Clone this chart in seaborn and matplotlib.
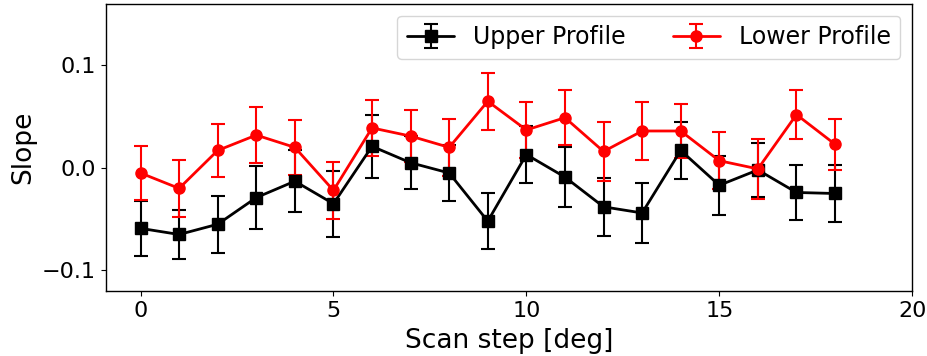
import numpy as np
import matplotlib
matplotlib.use("Agg")
import matplotlib.pyplot as plt
import seaborn as sns

steps = list(range(19))

upper_slope = [-0.059, -0.065, -0.055, -0.029, -0.013, -0.035, 0.021, 0.005, -0.005,
               -0.052, 0.013, -0.009, -0.038, -0.044, 0.017, -0.017, -0.002, -0.024, -0.025]
upper_err = [0.027, 0.024, 0.028, 0.031, 0.030, 0.032, 0.031, 0.026, 0.027,
             0.027, 0.028, 0.029, 0.028, 0.029, 0.028, 0.029, 0.026, 0.027, 0.028]

lower_slope = [-0.005, -0.020, 0.017, 0.032, 0.020, -0.022, 0.039, 0.031, 0.020,
               0.065, 0.037, 0.049, 0.016, 0.036, 0.036, 0.007, -0.001, 0.052, 0.023]
lower_err = [0.026, 0.028, 0.026, 0.027, 0.027, 0.028, 0.027, 0.025, 0.028,
             0.028, 0.027, 0.027, 0.029, 0.028, 0.026, 0.028, 0.029, 0.024, 0.025]

sns.set_style("ticks", {
    "axes.edgecolor": "black",
    "axes.labelcolor": "black",
    "text.color": "black",
    "xtick.color": "black",
    "ytick.color": "black",
})
plt.rcParams.update({
    "font.family": ["DejaVu Sans"],
    "axes.linewidth": 1.0,
    "xtick.major.size": 3.5,
    "ytick.major.size": 3.5,
    "xtick.major.width": 0.8,
    "ytick.major.width": 0.8,
})

fig, ax = plt.subplots(figsize=(9.28, 3.56), dpi=100)
fig.subplots_adjust(left=0.114, right=0.983, top=0.989, bottom=0.183)

ax.errorbar(steps, upper_slope, yerr=upper_err, color="black", marker="s",
            markersize=8, linewidth=2, capsize=5, elinewidth=1.5, capthick=1.5,
            label="Upper Profile")
ax.errorbar(steps, lower_slope, yerr=lower_err, color="red", marker="o",
            markersize=8, linewidth=2, capsize=5, elinewidth=1.5, capthick=1.5,
            label="Lower Profile")

ax.set_xlim(-0.9, 20)
ax.set_ylim(-0.12, 0.16)
ax.set_xticks([0, 5, 10, 15, 20])
ax.set_yticks([-0.1, 0.0, 0.1])
ax.tick_params(labelsize=16)
ax.set_xlabel("Scan step [deg]", fontsize=19, labelpad=5)
ax.set_ylabel("Slope", fontsize=19)
ax.legend(loc="upper right", ncol=2, fontsize=17)

fig.savefig("out.png", dpi=100)
